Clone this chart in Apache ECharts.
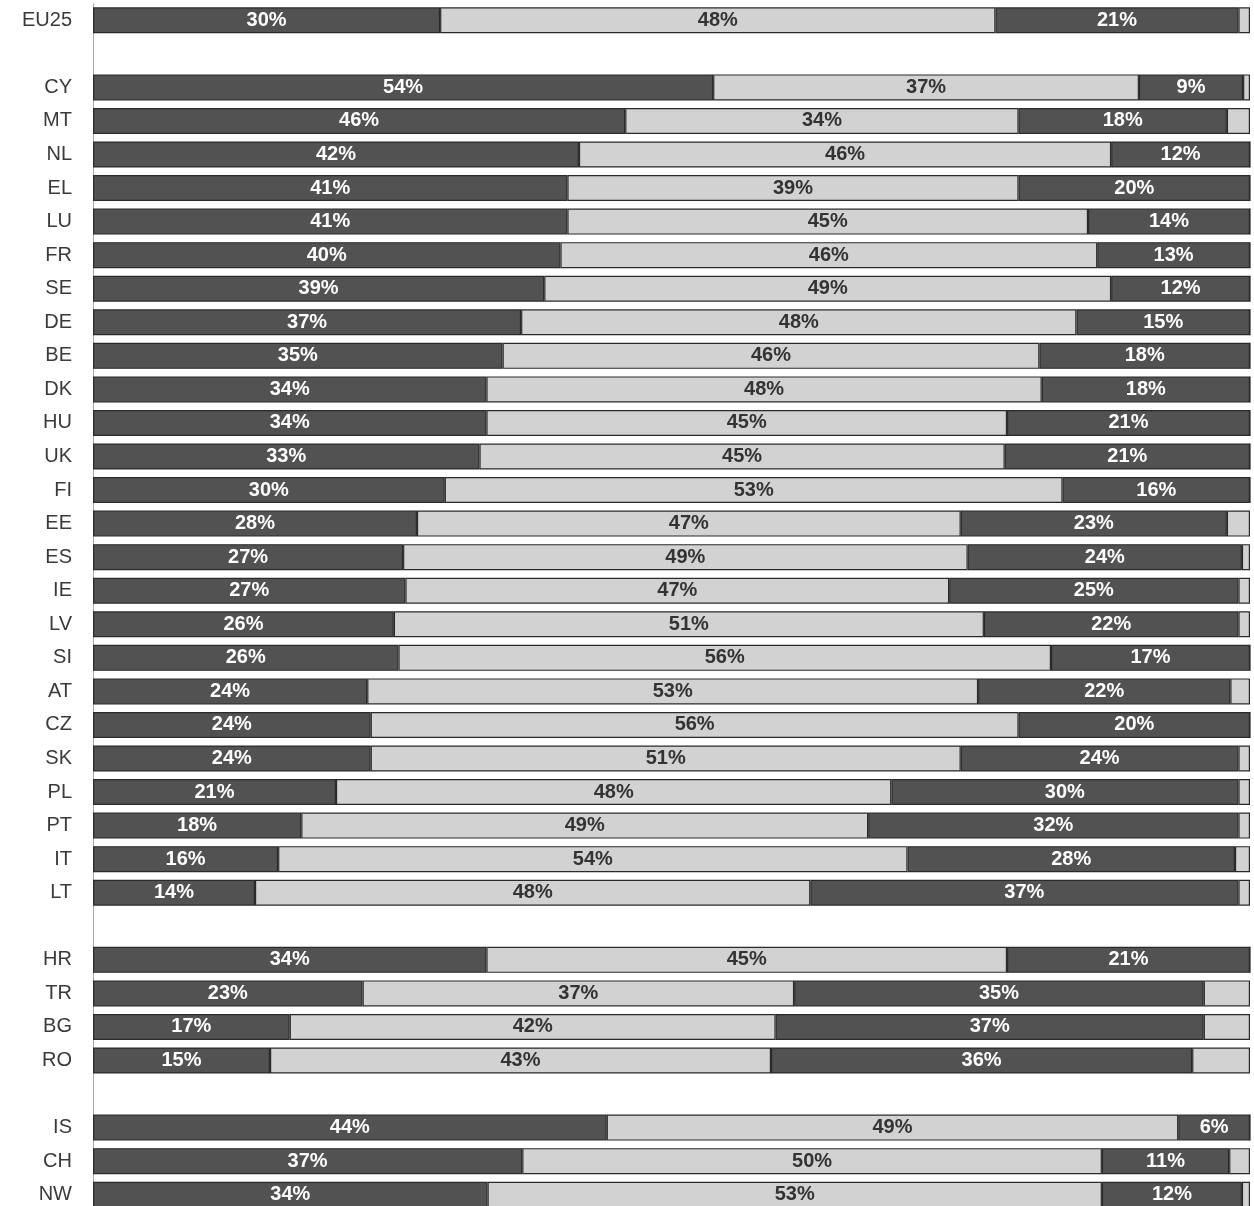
<!DOCTYPE html>
<html>
<head>
<meta charset="utf-8">
<script src="https://cdn.jsdelivr.net/npm/echarts@6/dist/echarts.min.js"></script>
<style>
html,body{margin:0;padding:0;background:#fff;overflow:hidden;}
#chart{width:1254px;height:1214px;}
</style>
</head>
<body>
<div id="chart"></div>
<script>
// Categories (blank entries are the gaps between country groups)
var categories = ['EU25',' ','CY','MT','NL','EL','LU','FR','SE','DE','BE','DK','HU','UK','FI','EE','ES','IE','LV','SI','AT','CZ','SK','PL','PT','IT','LT','  ','HR','TR','BG','RO','   ','IS','CH','NW'];

// Segment 1 (dark)
var seg1 = [30,'-',53.6,46,42,41,41,40.4,39,37,35.4,34,34,33.4,30.4,28,26.8,27,26,26.4,23.7,24,24,21,18,16,14,'-',34,23.3,17,15.3,'-',44.4,37.1,34.1];
// Segment 2 (light)
var seg2 = [48,'-',36.8,34,46,39,45,46.4,49,48,46.4,48,45,45.4,53.4,47,48.8,47,51,56.4,52.8,56,51,48,49,54.4,48,'-',45,37.3,42,43.3,'-',49.4,50.1,53.1];
// Segment 3 (dark)
var seg3 = [21,'-',9,18,12,20,14,13.2,12,15,18.2,18,21,21.2,16.2,23,23.7,25,22,17.2,21.8,20,24,30,32,28.3,37,'-',21,35.4,37,36.4,'-',6.2,11,12.1];
// Segment 4 (light remainder)
var seg4 = [1,'-',0.6,2,0,0,0,0,0,0,0,0,0,0,0,2,0.7,1,1,0,1.7,0,1,1,1,1.3,1,'-',0,4,4,5,'-',0,1.8,0.7];

var DARK = '#525252', LIGHT = '#d2d2d2', EDGE = '#2a2a2a';

function pct(p){ return Math.round(p.value) + '%'; }

function makeSeries(name, data, color, labelColor, showLabel){
  return {
    name: name,
    type: 'bar',
    stack: 'total',
    data: data,
    barWidth: 26,
    itemStyle: {color: color, borderColor: EDGE, borderWidth: 1.2},
    label: {
      show: showLabel,
      position: 'inside',
      formatter: pct,
      color: labelColor,
      fontFamily: 'Liberation Sans',
      fontWeight: 'bold',
      fontSize: 20
    },
    emphasis: {disabled: true},
    animation: false
  };
}

var chart = echarts.init(document.getElementById('chart'), null, {renderer: 'canvas'});
chart.setOption({
  backgroundColor: '#ffffff',
  animation: false,
  grid: {left: 93, right: 4, top: 3.5, height: 1208, containLabel: false},
  xAxis: {type: 'value', min: 0, max: 100, show: false},
  yAxis: {
    type: 'category',
    data: categories,
    inverse: true,
    axisTick: {show: false},
    axisLine: {show: true, lineStyle: {color: '#a8a8a8', width: 1}},
    axisLabel: {
      color: '#3a3a3a',
      fontFamily: 'Liberation Sans',
      fontSize: 20,
      margin: 21,
      interval: 0
    },
    splitLine: {show: false}
  },
  series: [
    makeSeries('s1', seg1, DARK, '#ffffff', true),
    makeSeries('s2', seg2, LIGHT, '#333333', true),
    makeSeries('s3', seg3, DARK, '#ffffff', true),
    makeSeries('s4', seg4, LIGHT, '#333333', false)
  ]
});
</script>
</body>
</html>
